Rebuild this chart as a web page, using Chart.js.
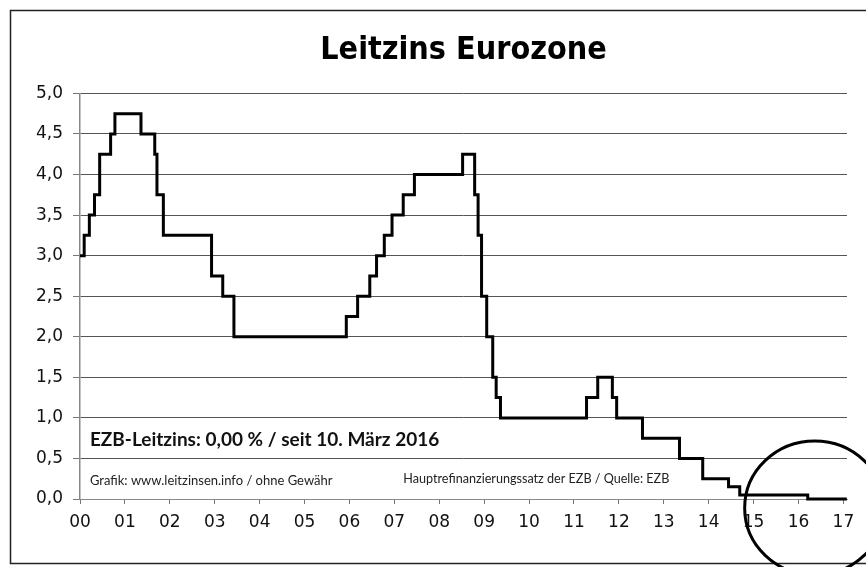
<!DOCTYPE html>
<html>
<head>
<meta charset="utf-8">
<script src="https://cdn.jsdelivr.net/npm/chart.js@4.4.1/dist/chart.umd.min.js"></script>
<style>
  html, body { margin: 0; padding: 0; background: #fff; }
  #wrap { width: 866px; height: 567px; position: relative; }
</style>
</head>
<body>
<div id="wrap"><canvas id="myChart" width="866" height="567"></canvas></div>
<script>
// dates where the main refinancing rate changed (last entry = end of the line)
var changeDates = ['2000-01-01','2000-02-04','2000-03-17','2000-04-28','2000-06-09','2000-09-06','2000-10-11',
  '2001-05-11','2001-08-31','2001-09-18','2001-11-09','2002-12-06','2003-03-07','2003-06-06',
  '2005-12-06','2006-03-08','2006-06-15','2006-08-09','2006-10-11','2006-12-13','2007-03-14','2007-06-13',
  '2008-07-09','2008-10-15','2008-11-12','2008-12-10','2009-01-21','2009-03-11','2009-04-08','2009-05-13',
  '2011-04-13','2011-07-13','2011-11-09','2011-12-14','2012-07-11','2013-05-08','2013-11-13',
  '2014-06-11','2014-09-10','2016-03-16','2017-01-28'];
var rates = [3.00,3.25,3.50,3.75,4.25,4.50,4.75,
  4.50,4.25,3.75,3.25,2.75,2.50,2.00,
  2.25,2.50,2.75,3.00,3.25,3.50,3.75,4.00,
  4.25,3.75,3.25,2.50,2.00,1.50,1.25,1.00,
  1.25,1.50,1.25,1.00,0.75,0.50,0.25,
  0.15,0.05,0.00,0.00];

var xTickValues = [0,1,2,3,4,5,6,7,8,9,10,11,12,13,14,15,16,17];
var xTickLabels = ['00','01','02','03','04','05','06','07','08','09','10','11','12','13','14','15','16','17'];
var yTickValues = [0,0.5,1,1.5,2,2.5,3,3.5,4,4.5,5];
var yTickLabels = ['0,0','0,5','1,0','1,5','2,0','2,5','3,0','3,5','4,0','4,5','5,0'];

var titleText = 'Leitzins Eurozone';
var noteMain = 'EZB-Leitzins: 0,00 % / seit 10. März 2016';
var noteLeft = 'Grafik: www.leitzinsen.info / ohne Gewähr';
var noteRight = 'Hauptrefinanzierungssatz der EZB / Quelle: EZB';

// years since 1 Jan 2000
function yearPos(s) {
  var p = s.split('-');
  return (Date.UTC(+p[0], +p[1] - 1, +p[2]) - Date.UTC(2000, 0, 1)) / (365.25 * 86400000);
}
var points = changeDates.map(function (d, i) { return { x: yearPos(d), y: rates[i] }; });

var extras = {
  id: 'extras',
  afterDraw: function (chart) {
    var ctx = chart.ctx, xs = chart.scales.x, ys = chart.scales.y;
    ctx.save();
    // frame
    ctx.strokeStyle = '#222';
    ctx.lineWidth = 1.5;
    ctx.strokeRect(10.5, 10.5, 900, 553);
    // notes
    ctx.fillStyle = '#111';
    ctx.textBaseline = 'middle';
    ctx.font = 'bold 19px Lato, "Open Sans", sans-serif';
    ctx.fillText(noteMain, xs.getPixelForValue(0.22), ys.getPixelForValue(0.73));
    ctx.font = '13px Lato, "Open Sans", sans-serif';
    ctx.fillStyle = '#222';
    ctx.fillText(noteLeft, xs.getPixelForValue(0.22), ys.getPixelForValue(0.23));
    ctx.font = '12.6px Lato, "Open Sans", sans-serif';
    ctx.fillText(noteRight, xs.getPixelForValue(7.2), ys.getPixelForValue(0.25));
    // circle
    ctx.strokeStyle = '#000';
    ctx.lineWidth = 3;
    ctx.beginPath();
    ctx.ellipse(xs.getPixelForValue(16.36), ys.getPixelForValue(0) + 9, 70, 67, 0, 0, Math.PI * 2);
    ctx.stroke();
    ctx.restore();
  }
};

var ctx = document.getElementById('myChart');
var myChart = new Chart(ctx, {
  type: 'line',
  data: {
    datasets: [{
      label: 'Leitzins',
      data: points,
      stepped: 'before',
      borderColor: '#000',
      borderWidth: 3,
      pointRadius: 0,
      fill: false,
      clip: false
    }]
  },
  options: {
    responsive: false,
    animation: false,
    layout: { padding: { left: 0, right: 19, top: 0, bottom: 38 } },
    plugins: {
      legend: { display: false },
      tooltip: { enabled: false },
      title: {
        display: true,
        text: titleText,
        fullSize: false,
        color: '#000',
        font: { family: '"DejaVu Sans Condensed", "DejaVu Sans", sans-serif', size: 32, weight: 'bold' },
        padding: { top: 31, bottom: 24 }
      }
    },
    scales: {
      x: {
        type: 'linear',
        min: 0,
        max: 17.08,
        afterBuildTicks: function (s) { s.ticks = xTickValues.map(function (v) { return { value: v }; }); },
        afterFit: function (s) { s.height = 30; },
        ticks: {
          padding: 8,
          color: '#111',
          font: { family: '"DejaVu Sans", Verdana, sans-serif', size: 17 },
          callback: function (v, i) { return xTickLabels[i]; }
        },
        grid: { drawOnChartArea: false, drawTicks: true, tickLength: 5, color: '#777' },
        border: { display: true, color: '#888', width: 1 }
      },
      y: {
        min: 0,
        max: 5,
        afterBuildTicks: function (s) { s.ticks = yTickValues.map(function (v) { return { value: v }; }); },
        afterFit: function (s) { s.width = 80; },
        ticks: {
          padding: 10,
          color: '#111',
          font: { family: '"DejaVu Sans", Verdana, sans-serif', size: 17 },
          callback: function (v, i) { return yTickLabels[i]; }
        },
        grid: {
          color: '#555',
          lineWidth: 1,
          borderDash: [2, 1],
          tickLength: 7,
          tickColor: '#777',
          tickBorderDash: []
        },
        border: { display: true, color: '#888', width: 1.5 }
      }
    }
  },
  plugins: [extras]
});
</script>
</body>
</html>
